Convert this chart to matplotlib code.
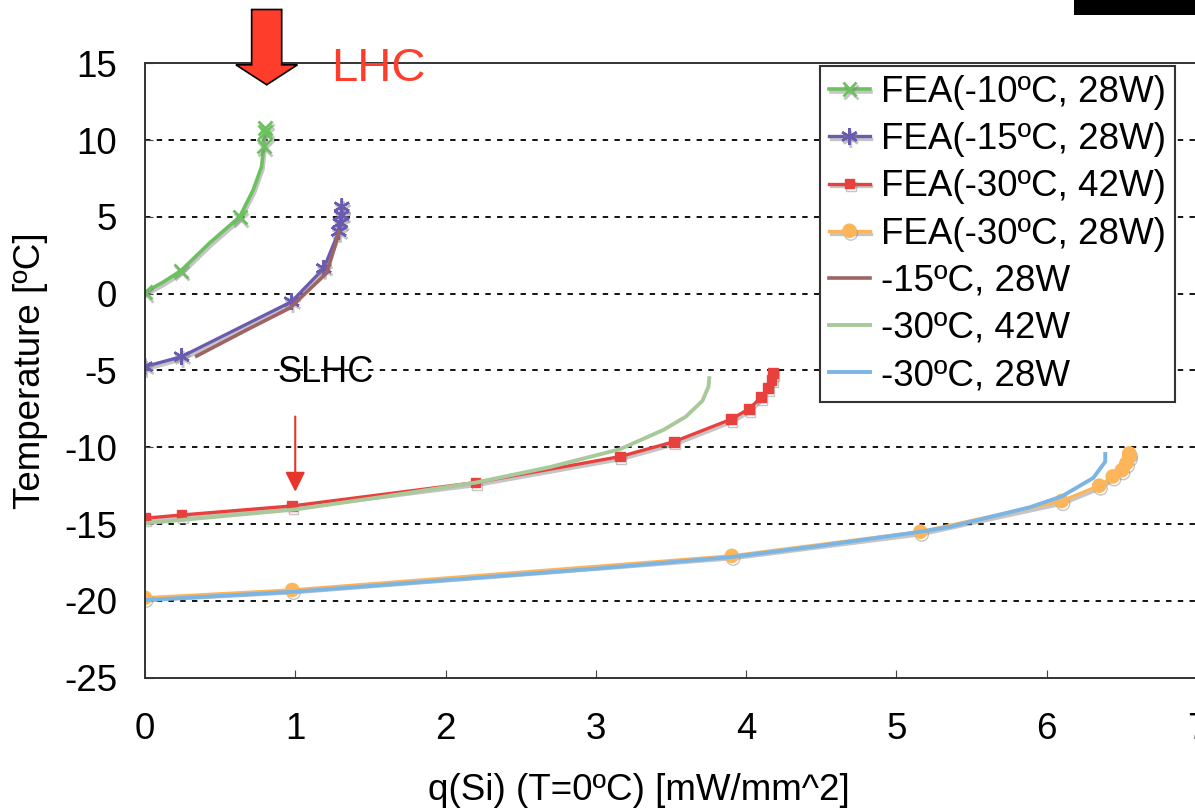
import matplotlib
matplotlib.use("Agg")
import matplotlib.pyplot as plt
import matplotlib.patheffects as pe
from matplotlib.patches import FancyArrow, Rectangle

plt.rcParams["font.family"] = ["Liberation Sans", "DejaVu Sans"]
plt.rcParams["axes.unicode_minus"] = False

# ----------------------------
# Data
# ----------------------------
# FEA(-10ºC, 28W)
fea10_x = [0.0, 0.12, 0.24, 0.43, 0.63, 0.72, 0.776, 0.79, 0.80, 0.80]
fea10_y = [0.1, 0.75, 1.5, 3.3, 5.0, 6.75, 8.27, 9.6, 10.5, 10.8]
fea10_marks = [0, 2, 4, 7, 8, 9]

# FEA(-15ºC, 28W)
fea15_x = [0.0, 0.244, 0.976, 1.19, 1.29, 1.30, 1.31, 1.31]
fea15_y = [-4.75, -4.1, -0.52, 1.65, 4.04, 4.6, 5.1, 5.66]

# FEA(-30ºC, 42W)
fea30_42_x = [0.0, 0.244, 0.98, 2.2, 3.16, 3.52, 3.90, 4.02, 4.10, 4.147, 4.17, 4.18]
fea30_42_y = [-14.62, -14.41, -13.82, -12.3, -10.61, -9.64, -8.18, -7.5, -6.75, -6.16, -5.6, -5.18]

# FEA(-30ºC, 28W)
fea30_28_x = [0.0, 0.98, 3.905, 5.16, 6.10, 6.35, 6.44, 6.50, 6.53, 6.55, 6.55]
fea30_28_y = [-19.8, -19.29, -17.07, -15.5, -13.5, -12.5, -11.9, -11.5, -11.05, -10.6, -10.4]

# -15ºC, 28W
c15_x = [0.344, 0.677, 0.965, 1.21, 1.283, 1.29]
c15_y = [-4.06, -2.36, -0.93, 1.35, 3.7, 4.04]

# -30ºC, 42W
c30_42_x = [0.0, 1.0, 1.6, 2.2, 2.69, 3.16, 3.45, 3.60, 3.71, 3.75, 3.755]
c30_42_y = [-14.95, -14.05, -13.2, -12.3, -11.3, -10.13, -8.87, -8.0, -6.97, -6.05, -5.5]

# -30ºC, 28W
c30_28_x = [0.0, 1.0, 2.0, 3.0, 3.9, 4.5, 5.16, 5.36, 5.89, 6.10, 6.31, 6.39, 6.39]
c30_28_y = [-19.95, -19.4, -18.65, -17.9, -17.15, -16.4, -15.5, -15.17, -13.9, -13.2, -12.0, -10.94, -10.44]

x_ticks = list(range(0, 8))
y_ticks = list(range(-25, 20, 5))

# ----------------------------
# Plot
# ----------------------------
fig = plt.figure(figsize=(11.95, 8.08), dpi=100)
ax = fig.add_axes([0.1213, 0.1613, 0.8803, 0.7604])

shadow = [pe.SimpleLineShadow(offset=(1, -2), shadow_color="gray", alpha=0.45), pe.Normal()]

ax.plot(fea10_x, fea10_y, color="#6cc15f", lw=2.6, marker="x", ms=10, mew=2,
        markevery=fea10_marks, label="FEA(-10ºC, 28W)", path_effects=shadow)
ax.plot(fea15_x, fea15_y, color="#6a5bb0", lw=2.4, marker=(6, 2, 0), ms=12, mew=1.8,
        label="FEA(-15ºC, 28W)", path_effects=shadow)
ax.plot(fea30_42_x, fea30_42_y, color="#e8403c", lw=2.4, marker="s", ms=7,
        label="FEA(-30ºC, 42W)", path_effects=shadow)
ax.plot(fea30_28_x, fea30_28_y, color="#fdb55a", lw=2.4, marker="o", ms=9.5,
        label="FEA(-30ºC, 28W)", path_effects=shadow)
ax.plot(c15_x, c15_y, color="#9e6464", lw=2.6, label="-15ºC, 28W")
ax.plot(c30_42_x, c30_42_y, color="#a9c99b", lw=2.8, label="-30ºC, 42W")
ax.plot(c30_28_x, c30_28_y, color="#7bb5e5", lw=2.8, label="-30ºC, 28W")

ax.set_xlim(0, 7)
ax.set_ylim(-25, 15)
ax.set_xticks(x_ticks)
ax.set_yticks(y_ticks)
ax.tick_params(direction="in", labelsize=26.5, length=6, color="#444444")
ax.tick_params(axis="y", pad=20)
ax.tick_params(axis="x", pad=25)
for yv in y_ticks[1:-1]:
    ax.axhline(yv, color="black", lw=1.3, ls=(0, (3, 3.5)), zorder=0)
for s in ax.spines.values():
    s.set_color("#333333")
    s.set_linewidth(1.4)

ax.set_xlabel("q(Si) (T=0ºC) [mW/mm^2]", fontsize=26.5, va="center")
ax.xaxis.set_label_coords(0.47, -0.183)
ax.set_ylabel("Temperature [ºC]", fontsize=26.5, va="center", ha="center")
ax.yaxis.set_label_coords(-0.109, 0.5)

# LHC block arrow and label
lhc = FancyArrow(0.81, 18.5, 0, -4.9, width=0.2, head_width=0.41, head_length=1.3,
                 length_includes_head=True, facecolor="#ff3d2a", edgecolor="black",
                 lw=1.2, clip_on=False, zorder=5)
ax.add_patch(lhc)
ax.text(1.55, 14.65, "LHC", color="#ff3d2a", fontsize=34, ha="center", va="center")

# SLHC thin arrow
ax.text(1.2, -5.1, "SLHC", fontsize=26, ha="center", va="center")
ax.annotate("", xy=(1.0, -12.9), xytext=(1.0, -8.0),
            arrowprops=dict(arrowstyle="-|>", color="#e8342a", lw=1.5,
                            mutation_scale=30, shrinkA=0, shrinkB=0))

leg = ax.legend(loc="upper left", bbox_to_anchor=(820 / 1195, 1 - 66 / 808),
                bbox_transform=fig.transFigure, fontsize=26.5, frameon=True,
                fancybox=False, borderaxespad=0, handlelength=1.1, handletextpad=0.3,
                labelspacing=0.33, borderpad=0.25)
leg.get_frame().set_edgecolor("#333333")
leg.get_frame().set_linewidth(1.5)
leg.get_frame().set_alpha(1)

# black bar in the top right corner
fig.patches.append(Rectangle((1074 / 1195, 1 - 15 / 808), 121 / 1195, 15 / 808,
                             transform=fig.transFigure, facecolor="black", edgecolor="none"))

fig.savefig("out.png", dpi=100)
